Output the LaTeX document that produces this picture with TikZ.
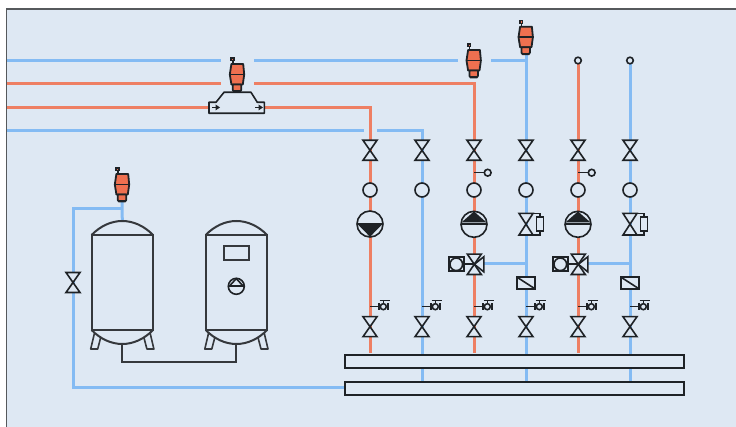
\documentclass[tikz,border=0pt]{standalone}
\definecolor{bgc}{HTML}{DEE8F3}
\definecolor{redp}{HTML}{EE7F63}
\definecolor{bluep}{HTML}{84BBF3}
\definecolor{ventc}{HTML}{EE7050}
\definecolor{ink}{HTML}{1E2226}
\tikzset{
  x=1pt,y=-1pt,
  sym/.style={draw=ink,line width=1.6pt,fill=bgc,line join=miter},
  symk/.style={draw=ink,line width=1.6pt},
  thick sym/.style={draw=ink,line width=2pt,fill=bgc},
  hot/.style={draw=redp,line width=3pt},
  cold/.style={draw=bluep,line width=3pt},
  link/.style={draw=ink!90,line width=2pt},
  pics/valveshape/.style={code={
    \draw[sym] (-7,-10)--(7,-10)--(-7,10)--(7,10)--cycle;}},
  pics/dot/.style={code={\draw[sym] (0,0) circle[radius=7pt];}},
  pics/pumpdown/.style={code={
    \draw[sym,line width=1.6pt] (0,0) circle[radius=13pt];
    \fill[ink] (-12.6,0)--(12.6,0)--(0,12.8)--cycle;
    \draw[symk] (-13,0)--(13,0);}},
  pics/pumpup/.style={code={
    \draw[sym,line width=1.6pt] (0,0) circle[radius=13pt];
    \fill[ink] (-12.6,-1.8)--(12.6,-1.8)--(0,-12.8)--cycle;
    \draw[symk] (-13,0)--(13,0);}},
  pics/motorvalve/.style={code={
    \draw[symk] (6.8,-10.8)--(14,-10.8)--(14,-7);
    \draw[symk] (6.8,10.8)--(14,10.8)--(14,7);
    \draw[sym] (-7,-10.8)--(7,-10.8)--(-7,10.8)--(7,10.8)--cycle;
    \draw[sym] (10.3,-7) rectangle (17.6,7);}},
  pics/threeway/.style={code={
    \draw[symk] (-11,0)--(0,0);
    \draw[thick sym,line width=2.1pt] (-25,-7.3) rectangle (-10.7,7);
    \draw[sym] (-18,0) circle[radius=6.3pt];
    \draw[sym] (0,0)--(9.5,-7.5)--(9.5,7.5)--cycle;
    \draw[sym] (-7,-10.2)--(7,-10.2)--(-7,10.2)--(7,10.2)--cycle;}},
  pics/flap/.style={code={
    \draw[thick sym] (-8.7,-5.8) rectangle (9.3,5.8);
    \draw[symk] (-8.7,-5.8)--(9.3,5.8);}},
  pics/tap/.style={code={
    \draw[symk] (0,0)--(9,0);
    \draw[symk] (9,-3.3)--(9,3.3) (18,-3.3)--(18,3.3);
    \draw[symk] (13.3,0) circle[radius=3pt];
    \draw[symk] (13.3,-3)--(13.3,-6) (9.5,-6)--(20,-6);}},
  pics/gauge/.style={code={
    \draw[symk] (0,0)--(10.3,0);
    \draw[sym] (13.7,0) circle[radius=3.4pt];}},
  pics/vent/.style={code={
    \fill[ink] (-6.6,-6.6) rectangle (-2.4,-2.6);
    \fill[ventc] (-5.2,-5.2) rectangle (-3.8,-3.9);
    \draw[ink,line width=1.8pt] (-4.2,-3)--(-4.2,0);
    \draw[draw=ink,line width=1.8pt,fill=ventc,line join=round] (-5.6,0)--(6.2,0)--(7.2,10.5)--(5.8,20.5)--(-5.6,20.5)--(-7.2,10.5)--cycle;
    \draw[ink,line width=1.6pt] (-8,10.5)--(8,10.5);
    \draw[draw=ink,line width=1.8pt,fill=ventc,line join=round] (-4.2,20.5)--(4.2,20.5)--(4.2,26)--(3,27.6)--(-3,27.6)--(-4.2,26)--cycle;
    \draw[ink,line width=1.8pt] (-3.4,26.8)--(3.4,26.8);}},
  pics/tank/.style={code={
    \draw[link,fill=bgc] (-30.7,-52)--(-30.7,43)--(30.7,43)--(30.7,-52)--cycle;
    \draw[link,fill=bgc] (-30.7,-52) .. controls (-22,-61) and (-11,-66) .. (0,-66) .. controls (11,-66) and (22,-61) .. (30.7,-52);
    \draw[link,fill=bgc] (-30.7,43) .. controls (-22,52) and (-11,57) .. (0,57) .. controls (11,57) and (22,52) .. (30.7,43);
    \draw[link] (-30.7,-52)--(30.7,-52) (-30.7,43)--(30.7,43);
    \draw[link,line join=round,line width=1.6pt] (-27.8,46)--(-31.6,62)--(-24.6,62)--(-21.6,50.5);
    \draw[link,line join=round,line width=1.6pt] (27.8,46)--(31.6,62)--(24.6,62)--(21.6,50.5);}},
}
\begin{document}
\begin{tikzpicture}
\useasboundingbox (0,0) rectangle (736,427);
\fill[white] (0,0) rectangle (736,427);
\fill[bgc] (6.5,9) rectangle (736,427);
\draw[draw=ink!75,line width=1.3pt] (6.5,427)--(6.5,9)--(736,9);

% named pipe points
\coordinate (L1) at (7,60.5);   \coordinate (L1a) at (220.5,60.5); \coordinate (L1b) at (254,60.5);
\coordinate (L1c) at (458,60.5); \coordinate (L1d) at (491,60.5);  \coordinate (J526) at (526,60.5);
\coordinate (L2) at (7,84);     \coordinate (L2a) at (220.5,84);   \coordinate (L2b) at (254,84);
\coordinate (J474) at (474,84);
\coordinate (L3) at (7,107.5);  \coordinate (J370) at (370,107.5);
\coordinate (L4) at (7,131);    \coordinate (L4a) at (364,131);    \coordinate (L4b) at (377,131);
\coordinate (J422) at (422,131);
\coordinate (anchorA) at (344,387.5);
\coordinate (B1) at (73,387.5); \coordinate (B2) at (73,208.5); \coordinate (B3) at (122,208.5);
\coordinate (V3) at (122,202); \coordinate (T1) at (122.3,221);
\coordinate (V2) at (526,50); \coordinate (V1) at (474,60);
\coordinate (G1) at (578,60.5); \coordinate (G2) at (630,60.5);
\coordinate (M1) at (484,263.5); \coordinate (M1e) at (526,263.5);
\coordinate (M2) at (588,263.5); \coordinate (M2e) at (630,263.5);

% pipes
\draw[cold] (L1)--(L1a) (L1b)--(L1c) (L1d)--(J526);
\draw[hot] (L2)--(L2a) (L2b)--(J474)--(474,353.5);
\draw[hot] (L3)--(J370)--(370,353.5);
\draw[cold,line join=miter] (L4)--(L4a) (L4b)--(J422)--(422,381);
\draw[cold] (V2)--(526,381);
\draw[hot] (G1)--(578,353.5);
\draw[cold] (G2)--(630,381);
\draw[cold] (M1)--(M1e) (M2)--(M2e);
\draw[cold,line join=miter] (anchorA)--(B1)--(B2)--(B3);
\draw[cold] (V3)--(T1);

% vents
\pic at (237,64) {vent};
\pic at (473.7,50) {vent};
\pic at (525.7,26.7) {vent};
\pic at (122,174) {vent};

% separator
\draw[sym,line join=round,line width=1.6pt] (209,102.3)--(216,102.3)--(224,92.3)--(251,92.3)--(257.3,102.3)--(264.3,102.3)--(264.3,113.3)--(209,113.3)--cycle;
\draw[symk] (212,107.5)--(216,107.5);
\fill[ink] (215.5,104.5)--(220,107.5)--(215.5,110.5)--cycle;
\draw[symk] (255,107.5)--(259,107.5);
\fill[ink] (258.5,104.5)--(263,107.5)--(258.5,110.5)--cycle;

% top gauges
\draw[sym] (G1) circle[radius=3.3pt];
\draw[sym] (G2) circle[radius=3.3pt];

% columns
\foreach \cx in {370,422,474,526,578,630}{
  \pic at (\cx,150.3) {valveshape};
  \pic at (\cx,190) {dot};
  \pic at (\cx,326.7) {valveshape};
  \pic at (\cx,306.7) {tap};
}
\pic at (370,224) {pumpdown};
\pic at (474,224.3) {pumpup};
\pic at (578,224.3) {pumpup};
\pic at (474,172.7) {gauge};
\pic at (578,172.7) {gauge};
\pic at (526,224.2) {motorvalve};
\pic at (630,224.2) {motorvalve};
\pic at (474.3,264.3) {threeway};
\pic at (578.3,264.3) {threeway};
\pic at (526,283.2) {flap};
\pic at (630,283.2) {flap};

% headers
\node[thick sym,inner sep=0,minimum width=339.2pt,minimum height=13pt,anchor=north west] (hdrA) at (344,353.6) {};
\node[thick sym,inner sep=0,minimum width=339.2pt,minimum height=13pt,anchor=north west] (hdrB) at (344,381) {};

% tanks
\coordinate (tankL) at (122.3,287);
\coordinate (tankR) at (236.4,287);
\draw[link,line join=miter] (tankL)++(0,57)--++(0,17.7)-|(236.4,344);
\pic at (tankL) {tank};
\pic at (tankR) {tank};
\draw[link] (224.3,245.7) rectangle (248.7,260.3);
\draw[symk] (236.3,286.3) circle[radius=8pt];
\draw[symk] (228.3,285.8)--(244.3,285.8);
\draw[symk,line join=round] (229.7,285.8)--(236.3,278.6)--(242.9,285.8);
\pic at (73,282.5) {valveshape};
\end{tikzpicture}
\end{document}
